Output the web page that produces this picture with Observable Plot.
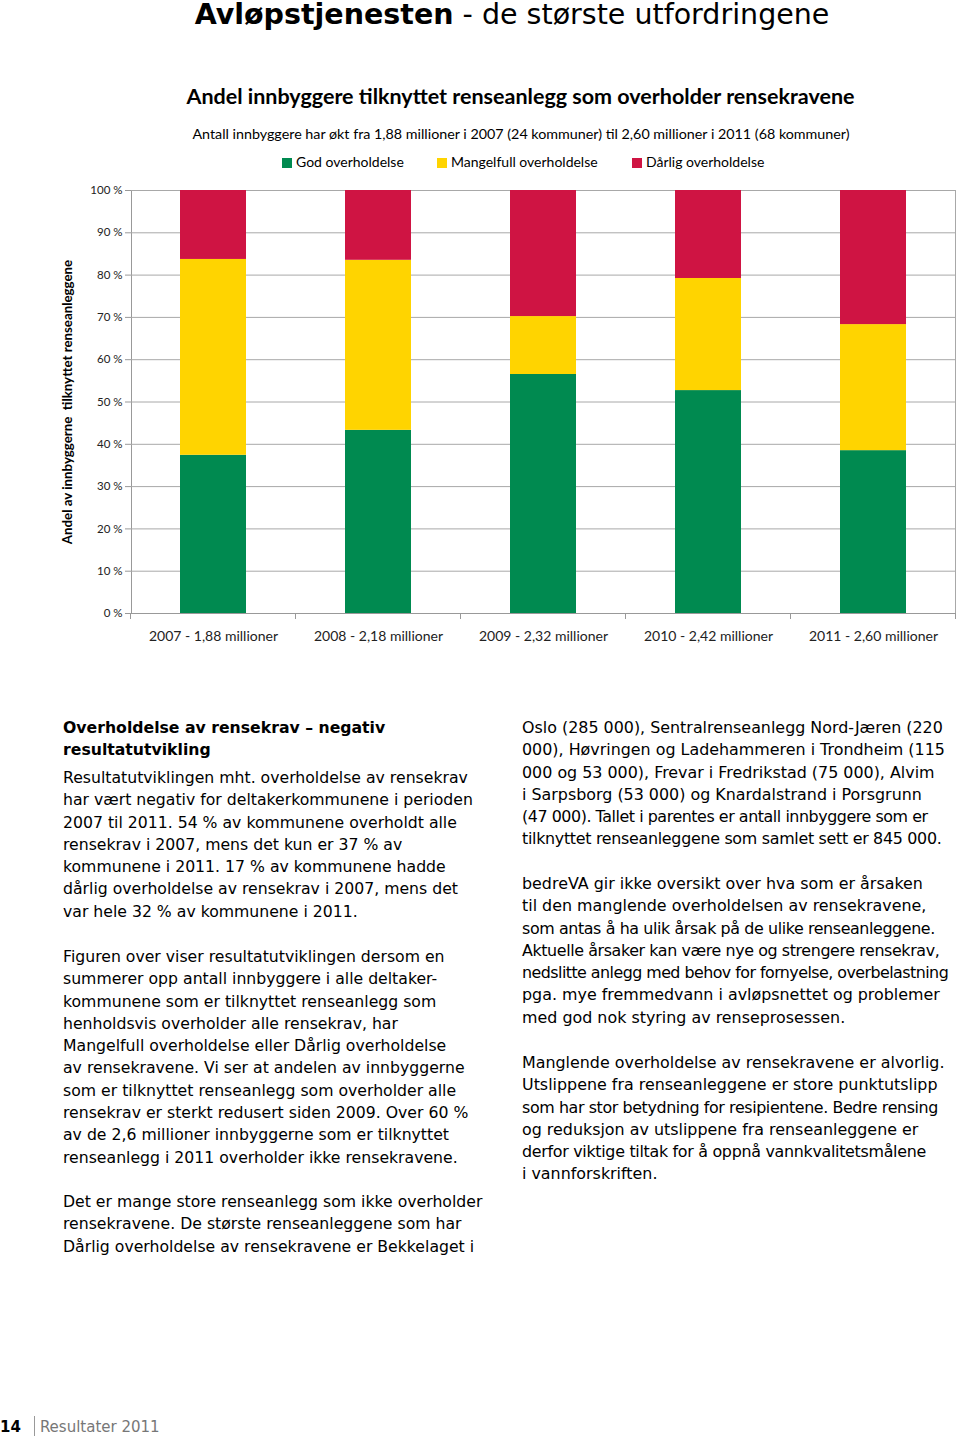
<!DOCTYPE html>
<html>
<head>
<meta charset="utf-8">
<script src="https://cdn.jsdelivr.net/npm/d3@7"></script>
<script src="https://cdn.jsdelivr.net/npm/@observablehq/plot@0.6"></script>
<style>
  html, body { margin: 0; padding: 0; background: #fff; }
  body { width: 960px; height: 1438px; position: relative; overflow: hidden; }
  .abs { position: absolute; white-space: nowrap; }
  #header { left: 0; width: 1024px; top: -1px; text-align: center; font-family: "DejaVu Sans", sans-serif; font-size: 28.5px; line-height: 32px; color: #000; }
  #ctitle { left: 0; width: 1041px; top: 83px; text-align: center; font-family: Lato, sans-serif; font-weight: bold; font-size: 21.5px; color: #000; }
  #csub { left: 0; width: 1042px; top: 125px; text-align: center; font-family: Lato, sans-serif; font-size: 14.3px; color: #000; }
  #legend { left: 282px; top: 153px; font-family: Lato, sans-serif; font-size: 14px; color: #000; }
  #legend span.item { position: absolute; white-space: nowrap; }
  #legend span.sw { display: inline-block; width: 10px; height: 10px; margin-right: 4px; vertical-align: -1px; }
  #ylab { left: 67px; top: 402px; transform: translate(-50%, -50%) rotate(-90deg); font-family: Lato, sans-serif; font-weight: bold; font-size: 13.3px; color: #000; z-index: 2; }
  #chart { left: 0; top: 170px; z-index: 1; }
  .txt { font-family: "DejaVu Sans", sans-serif; font-size: 15.7px; line-height: 22.3px; color: #000; }
  .r { font-size: 15.9px; }
  .bold { font-weight: bold; }
  #footer { left: 0; top: 1416px; font-family: "DejaVu Sans", sans-serif; font-size: 15px; line-height: 20px; }
</style>
</head>
<body>
<div id="header" class="abs"><b>Avløpstjenesten</b> - de største utfordringene</div>
<div id="ctitle" class="abs">Andel innbyggere tilknyttet renseanlegg som overholder rensekravene</div>
<div id="csub" class="abs">Antall innbyggere har økt fra 1,88 millioner i 2007 (24 kommuner) til 2,60 millioner i 2011 (68 kommuner)</div>
<div id="legend" class="abs"></div>
<div id="chart" class="abs"></div>
<div id="ylab" class="abs">Andel av innbyggerne&nbsp; tilknyttet renseanleggene</div>

<div class="abs txt bold" style="left:63px; top:717px;">Overholdelse av rensekrav – negativ<br>resultatutvikling</div>
<div class="abs txt" style="left:63px; top:767px;">Resultatutviklingen mht. overholdelse av rensekrav<br>har vært negativ for deltakerkommunene i perioden<br>2007 til 2011. 54 % av kommunene overholdt alle<br>rensekrav i 2007, mens det kun er 37 % av<br>kommunene i 2011. 17 % av kommunene hadde<br>dårlig overholdelse av rensekrav i 2007, mens det<br>var hele 32 % av kommunene i 2011.</div>
<div class="abs txt" style="left:63px; top:946px;">Figuren over viser resultatutviklingen dersom en<br>summerer opp antall innbyggere i alle deltaker-<br>kommunene som er tilknyttet renseanlegg som<br>henholdsvis overholder alle rensekrav, har<br>Mangelfull overholdelse eller Dårlig overholdelse<br>av rensekravene. Vi ser at andelen av innbyggerne<br>som er tilknyttet renseanlegg som overholder alle<br>rensekrav er sterkt redusert siden 2009. Over 60 %<br>av de 2,6 millioner innbyggerne som er tilknyttet<br>renseanlegg i 2011 overholder ikke rensekravene.</div>
<div class="abs txt" style="left:63px; top:1191px;">Det er mange store renseanlegg som ikke overholder<br>rensekravene. De største renseanleggene som har<br>Dårlig overholdelse av rensekravene er Bekkelaget i</div>

<div class="abs txt r" style="left:522px; top:717px;">Oslo (285 000), Sentralrenseanlegg Nord-Jæren (220<br>000), Høvringen og Ladehammeren i Trondheim (115<br>000 og 53 000), Frevar i Fredrikstad (75 000), Alvim<br>i Sarpsborg (53 000) og Knardalstrand i Porsgrunn<br><span style="letter-spacing:-0.45px">(47 000). Tallet i parentes er antall innbyggere som er</span><br><span style="letter-spacing:-0.3px">tilknyttet renseanleggene som samlet sett er 845 000.</span></div>
<div class="abs txt r" style="left:522px; top:873px;">bedreVA gir ikke oversikt over hva som er årsaken<br>til den manglende overholdelsen av rensekravene,<br><span style="letter-spacing:-0.4px">som antas å ha ulik årsak på de ulike renseanleggene.</span><br><span style="letter-spacing:-0.4px">Aktuelle årsaker kan være nye og strengere rensekrav,</span><br><span style="letter-spacing:-0.55px">nedslitte anlegg med behov for fornyelse, overbelastning</span><br>pga. mye fremmedvann i avløpsnettet og problemer<br>med god nok styring av renseprosessen.</div>
<div class="abs txt r" style="left:522px; top:1052px;">Manglende overholdelse av rensekravene er alvorlig.<br>Utslippene fra renseanleggene er store punktutslipp<br><span style="letter-spacing:-0.4px">som har stor betydning for resipientene. Bedre rensing</span><br>og reduksjon av utslippene fra renseanleggene er<br><span style="letter-spacing:-0.3px">derfor viktige tiltak for å oppnå vannkvalitetsmålene</span><br>i vannforskriften.</div>

<div id="footer" class="abs"><b>14</b><span style="display:inline-block;width:1px;height:20px;background:#999;margin:0 5px 0 13px;vertical-align:-4px;"></span><span style="color:#777;">Resultater 2011</span></div>

<script>
// ---- data ----
const years = ["2007 - 1,88 millioner", "2008 - 2,18 millioner", "2009 - 2,32 millioner", "2010 - 2,42 millioner", "2011 - 2,60 millioner"];
const series = ["God overholdelse", "Mangelfull overholdelse", "Dårlig overholdelse"];
const colors = ["#008a50", "#ffd400", "#cf1443"];
const god = [37.4, 43.3, 56.5, 52.7, 38.5];
const mangelfull = [46.3, 40.2, 13.7, 26.5, 29.8];
const darlig = [16.3, 16.5, 29.8, 20.8, 31.7];
const yTicks = [0, 10, 20, 30, 40, 50, 60, 70, 80, 90, 100];

const values = [god, mangelfull, darlig];
const data = [];
series.forEach((s, i) => years.forEach((y, j) => data.push({year: y, series: s, value: values[i][j]})));

// legend
const legend = document.getElementById("legend");
const legendX = [0, 155, 350];
series.forEach((s, i) => {
  const el = document.createElement("span");
  el.className = "item";
  el.style.left = legendX[i] + "px";
  el.innerHTML = `<span class="sw" style="background:${colors[i]}"></span>${s}`;
  legend.appendChild(el);
});

const plot = Plot.plot({
  width: 960,
  height: 483,
  marginLeft: 131,
  marginRight: 4,
  marginTop: 20,
  marginBottom: 40,
  style: {fontFamily: "Lato, sans-serif", fontSize: "11.5px", color: "#999", background: "transparent"},
  x: {domain: years, paddingInner: 0.6, paddingOuter: 0.3, label: null, tickSize: 0, tickPadding: 18},
  y: {domain: [0, 100], ticks: yTicks, tickFormat: d => d + " %", label: null, tickSize: 6, tickPadding: 3, line: true},
  color: {domain: series, range: colors},
  marks: [
    Plot.ruleY(yTicks.slice(1), {stroke: "#a8a8a8"}),
    Plot.barY(data, {x: "year", y: "value", fill: "series"}),
    Plot.ruleY([0], {stroke: "#999"})
  ]
});
document.getElementById("chart").appendChild(plot);

// text colours
d3.select(plot).selectAll("text").style("fill", "#222");
const xs = plot.scale("x");
d3.select(plot).selectAll("text").each(function() {
  const t = this.textContent;
  if (years.includes(t)) { d3.select(this).style("font-size", "14px"); }
});

// category boundary ticks below the x axis, and right border of the plot area
const ys = plot.scale("y");
const bw = xs.bandwidth;
const step = xs.step;
const gap = (step - bw) / 2;
const bounds = years.map(y => xs.apply(y) - gap);
const rightEdge = xs.apply(years[years.length - 1]) + bw + gap;
bounds.push(rightEdge);
const y0 = ys.apply(0);
const y100 = ys.apply(100);
const g = d3.select(plot).append("g");
g.selectAll("line.tk").data(bounds).join("line").attr("class", "tk")
  .attr("x1", d => d).attr("x2", d => d)
  .attr("y1", y0).attr("y2", y0 + 6)
  .attr("stroke", "#999");
g.append("line")
  .attr("x1", rightEdge).attr("x2", rightEdge)
  .attr("y1", y100).attr("y2", y0)
  .attr("stroke", "#a8a8a8");
</script>
</body>
</html>
